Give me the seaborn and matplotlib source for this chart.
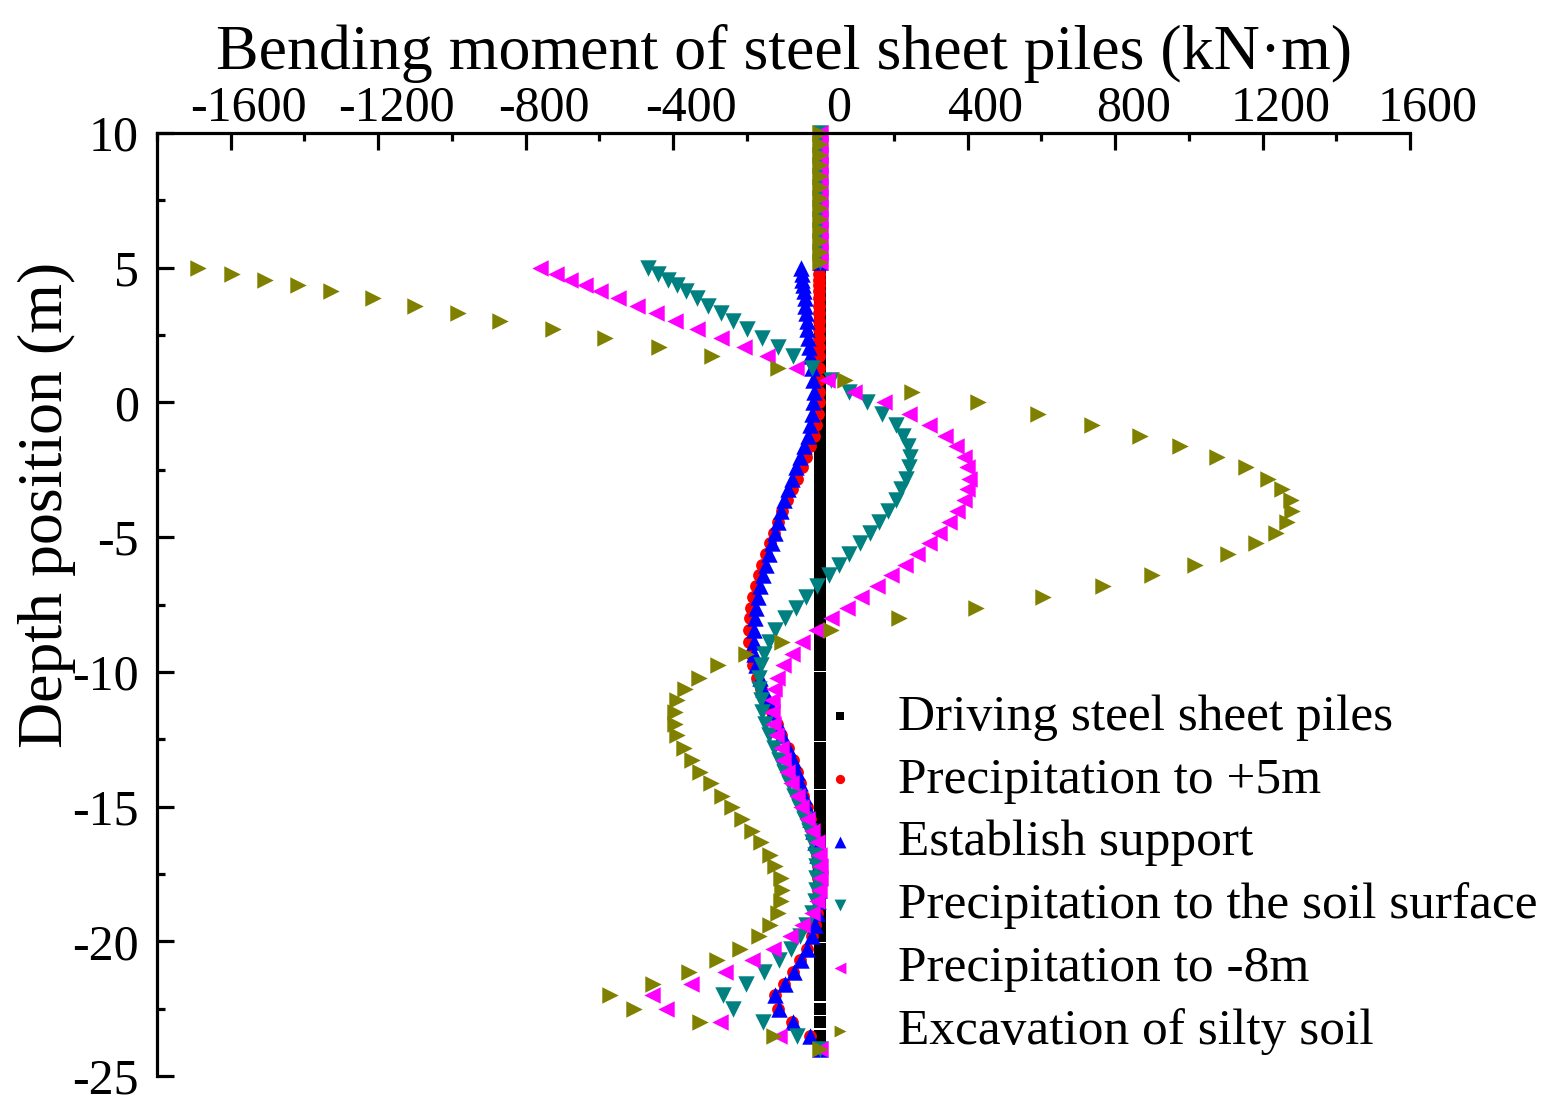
import matplotlib
matplotlib.use('Agg')
from matplotlib.ticker import MultipleLocator
from matplotlib.transforms import ScaledTranslation
import matplotlib.pyplot as plt
import seaborn as sns

# depth nodes above ground (moment is zero there for every stage)
depth_air = [10.0, 9.6, 9.2, 8.8, 8.4, 8.0, 7.6, 7.2, 6.8, 6.4, 6.0, 5.6, 5.2]
moment_air = [0, 0, 0, 0, 0, 0, 0, 0, 0, 0, 0, 0, 0]

# depth nodes along the embedded part of the pile (m)
depth_soil = [5.00, 4.75, 4.54, 4.34, 4.13, 3.86, 3.58, 3.32, 3.04, 2.71,
              2.38, 2.04, 1.71, 1.26, 0.85, 0.40, 0.00, -0.42, -0.84, -1.25,
              -1.62, -2.02, -2.41, -2.83, -3.23, -3.63, -4.03, -4.43, -4.84, -5.21,
              -5.62, -6.02, -6.42, -6.82, -7.23, -7.62, -8.00, -8.43, -8.88, -9.33,
              -9.76, -10.22, -10.63, -11.06, -11.50, -11.95, -12.36, -12.82, -13.28, -13.72,
              -14.14, -14.59, -15.02, -15.45, -15.89, -16.32, -16.78, -17.21, -17.64, -18.08,
              -18.51, -18.94, -19.38, -19.81, -20.27, -20.70, -21.13, -21.58, -22.01, -22.51,
              -23.00, -23.50, -24.00]

# bending moment (kN·m) per construction stage
driving = [0, 0, 0, 0, 0, 0, 0, 0, 0, 0,
           0, 0, 0, 0, 0, 0, 0, 0, 0, 0,
           0, 0, 0, 0, 0, 0, 0, 0, 0, 0,
           0, 0, 0, 0, 0, 0, 0, 0, 0, 0,
           0, 0, 0, 0, 0, 0, 0, 0, 0, 0,
           0, 0, 0, 0, 0, 0, 0, 0, 0, 0,
           0, 0, 0, 0, 0, 0, 0, 0, 0, 0,
           0, 0, 0]
precip_5m = [-3, -3, -3, -3, -3, -3, -3, -3, -3, -3,
             -3, -3, -3, -3, -3, -3, -4, -7, -12, -18,
             -27, -38, -50, -64, -78, -91, -104, -116, -127, -137,
             -147, -157, -166, -175, -182, -188, -192, -194, -193, -189,
             -182, -172, -160, -147, -132, -118, -106, -89, -75, -64,
             -56, -46, -37, -28, -21, -15, -10, -7, -6, -6,
             -7, -10, -15, -23, -37, -54, -74, -98, -124, -115,
             -76, -29, 0]
support = [-53, -51, -49, -47, -45, -43, -41, -39, -37, -35,
           -33, -30, -27, -23, -20, -18, -20, -24, -29, -34,
           -44, -55, -65, -76, -88, -100, -108, -115, -122, -131,
           -140, -148, -156, -164, -170, -175, -178, -181, -181, -179,
           -174, -165, -155, -143, -128, -114, -103, -87, -73, -63,
           -55, -45, -36, -27, -20, -14, -9, -6, -5, -5,
           -6, -9, -14, -22, -36, -53, -72, -96, -122, -113,
           -74, -28, 0]
soil_surface = [-468, -440, -413, -389, -365, -334, -304, -270, -237, -198,
                -158, -116, -73, -24, 28, 78, 127, 168, 204, 225,
                238, 243, 241, 232, 218, 204, 183, 159, 135, 107,
                79, 50, 23, -8, -40, -67, -97, -122, -140, -153,
                -162, -167, -167, -162, -158, -149, -140, -126, -113, -99,
                -85, -72, -58, -45, -31, -22, -15, -13, -13, -13,
                -15, -24, -40, -54, -81, -113, -153, -203, -264, -237,
                -155, -63, 0]
precip_m8 = [-760, -717, -678, -638, -598, -549, -498, -446, -395, -334,
             -270, -207, -144, -67, 18, 91, 173, 241, 295, 338,
             368, 390, 399, 404, 399, 390, 372, 350, 322, 295,
             263, 229, 191, 154, 109, 72, 28, -13, -49, -76,
             -101, -117, -126, -131, -131, -128, -120, -108, -101, -90,
             -79, -63, -52, -35, -24, -10, -4, -1, -1, -4,
             -10, -24, -49, -83, -128, -185, -259, -350, -457, -418,
             -273, -113, 0]
silty = [-1690, -1597, -1506, -1417, -1328, -1215, -1099, -984, -870, -726,
         -585, -438, -294, -116, 66, 250, 429, 591, 736, 867,
         977, 1075, 1154, 1214, 1254, 1276, 1280, 1267, 1236, 1181,
         1107, 1016, 900, 766, 605, 422, 213, 30, -103, -203,
         -278, -330, -367, -389, -395, -395, -389, -371, -348, -326,
         -298, -267, -240, -212, -185, -160, -137, -122, -108, -103,
         -106, -115, -137, -167, -217, -280, -357, -454, -570, -505,
         -326, -126, 0]

labels = ['Driving steel sheet piles', 'Precipitation to +5m', 'Establish support',
          'Precipitation to the soil surface', 'Precipitation to -8m', 'Excavation of silty soil']
colors = ['black', '#FF0000', '#0000FF', '#008080', '#FF00FF', '#808000']
markers = ['s', 'o', '^', 'v', '<', '>']
sizes = [68, 85, 140, 140, 140, 140]
series = [driving, precip_5m, support, soil_surface, precip_m8, silty]

sns.set_style('white')
plt.rcParams['font.family'] = ['Liberation Serif', 'DejaVu Serif']
plt.rcParams['axes.unicode_minus'] = False
for key in ['text.color', 'axes.labelcolor', 'xtick.color', 'ytick.color']:
    plt.rcParams[key] = 'black'

fig = plt.figure(figsize=(15.5, 11.16), dpi=100)
ax = fig.add_axes([157 / 1550, 1 - 1076 / 1116, (1410 - 157) / 1550, (1076 - 133) / 1116])

depth = depth_air + depth_soil
for vals, lab, c, m, s in zip(series, labels, colors, markers, sizes):
    sns.scatterplot(x=moment_air + vals, y=depth, ax=ax, marker=m, color=c, s=s,
                    linewidth=0, label=lab, clip_on=False)

ax.set_xlim(-1800, 1600)
ax.set_ylim(-25, 10)
ax.set_xticks(range(-1600, 1601, 400))
ax.xaxis.set_minor_locator(MultipleLocator(200))
ax.yaxis.set_major_locator(MultipleLocator(5))
ax.yaxis.set_minor_locator(MultipleLocator(2.5))
ax.xaxis.tick_top()
ax.xaxis.set_label_position('top')

for side in ['right', 'bottom']:
    ax.spines[side].set_visible(False)
for side in ['top', 'left']:
    ax.spines[side].set_linewidth(2.3)
    ax.spines[side].set_color('black')

ax.tick_params(which='major', direction='in', length=12, width=2.3, labelsize=36,
               top=True, left=True, bottom=False, right=False)
ax.tick_params(which='minor', direction='in', length=6, width=2.3,
               top=True, left=True, bottom=False, right=False)
ax.tick_params(axis='x', which='major', pad=1)
ax.tick_params(axis='y', which='major', pad=13)

# the top tick labels sit a little right of their ticks in the original
shift = ScaledTranslation(18 / 100, 0, fig.dpi_scale_trans)
for lbl in ax.get_xticklabels():
    lbl.set_transform(lbl.get_transform() + shift)

ax.set_xlabel('Bending moment of steel sheet piles (kN·m)', fontsize=46)
ax.xaxis.set_label_coords(0.5, 1.068)
ax.set_ylabel('Depth position (m)', fontsize=46)
ax.yaxis.set_label_coords(-0.065, 0.6055)

ax.legend(frameon=False, fontsize=37, markerscale=0.72, loc='upper left',
          bbox_to_anchor=(794 / 1550, 1 - 668 / 1116), bbox_transform=fig.transFigure,
          handletextpad=0.73, labelspacing=0.31, borderpad=0, handlelength=0.8)

fig.savefig('out.png', dpi=100)
